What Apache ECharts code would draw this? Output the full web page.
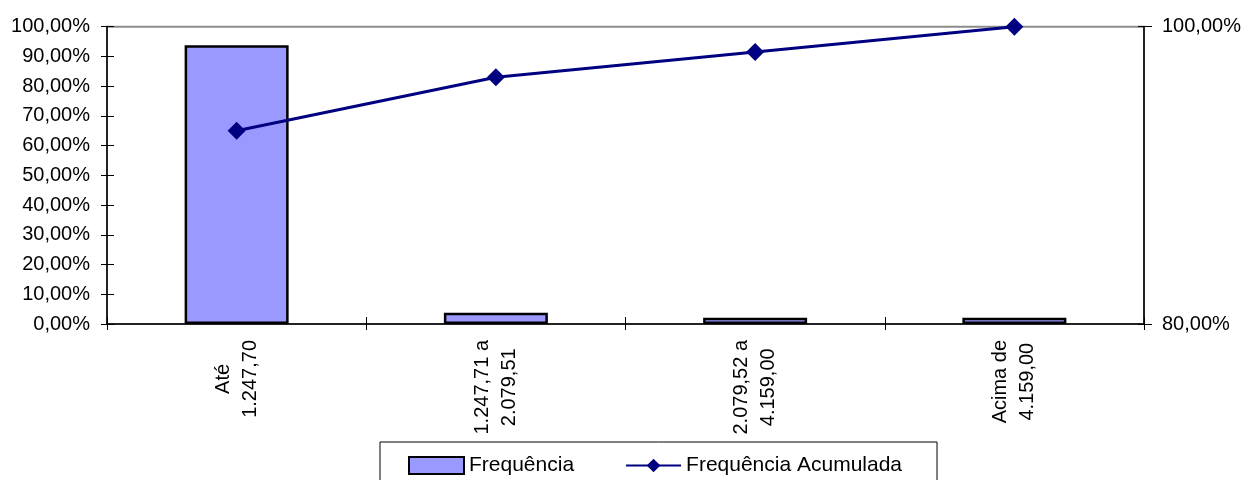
<!DOCTYPE html>
<html>
<head>
<meta charset="utf-8">
<script src="https://cdn.jsdelivr.net/npm/echarts@6/dist/echarts.min.js"></script>
<style>
html,body{margin:0;padding:0;background:#fff;}
#chart{width:1248px;height:480px;}
</style>
</head>
<body>
<div id="chart"></div>
<script>
var categories = ['Até\n1.247,70', '1.247,71 a\n2.079,51', '2.079,52 a\n4.159,00', 'Acima de\n4.159,00'];
var frequencia = [93.8, 3.8, 2.1, 2.1];
var acumulada = [93.0, 96.6, 98.3, 100.0];
var seriesNames = ['Frequência', 'Frequência Acumulada'];

var FONT = '"Liberation Sans", Arial, sans-serif';
function pct(v) { return v.toFixed(2).replace('.', ',') + '%'; }

var chart = echarts.init(document.getElementById('chart'), null, {renderer: 'canvas'});
chart.setOption({
  animation: false,
  backgroundColor: '#ffffff',
  textStyle: {fontFamily: FONT, color: '#000'},
  grid: {left: 107, right: 104, top: 26.7, bottom: 156, show: true, borderColor: '#8c8c8c', borderWidth: 2, containLabel: false},
  legend: {
    data: [{name: seriesNames[0], icon: 'rect'}, {name: seriesNames[1]}],
    left: 380, top: 442,
    orient: 'horizontal',
    padding: [13, 35, 13, 28],
    itemGap: 51, itemWidth: 55, itemHeight: 17,
    borderColor: '#000', borderWidth: 1,
    textStyle: {fontFamily: FONT, fontSize: 21, color: '#000'}
  },
  xAxis: [{
    type: 'category', data: categories, position: 'bottom', boundaryGap: true,
    axisLine: {show: true, lineStyle: {color: '#000', width: 1.5}},
    axisTick: {show: true, length: 6, lineStyle: {color: '#000', width: 1}},
    axisLabel: {
      rotate: 90, margin: 16, interval: 0, color: '#000', fontFamily: FONT, fontSize: 20, lineHeight: 27,
      formatter: function (v) { return v.split('\n').map(function (s) { return '{c|' + s + '}'; }).join('\n'); },
      rich: {c: {align: 'center', fontFamily: FONT, fontSize: 20, lineHeight: 27, color: '#000'}}
    }
  }, {
    type: 'category', data: categories, position: 'bottom', boundaryGap: true,
    axisLine: {show: false}, axisLabel: {show: false},
    axisTick: {show: true, inside: true, length: 7, lineStyle: {color: '#000', width: 1}}
  }],
  yAxis: [{
    type: 'value', position: 'left', min: 0, max: 100, interval: 10,
    splitLine: {show: false},
    axisLine: {show: true, lineStyle: {color: '#000', width: 1.5}},
    axisTick: {show: true, length: 6, lineStyle: {color: '#000'}},
    axisLabel: {margin: 17, color: '#000', fontFamily: FONT, fontSize: 20, formatter: pct}
  }, {
    type: 'value', position: 'right', min: 80, max: 100, interval: 20,
    splitLine: {show: false},
    axisLine: {show: true, lineStyle: {color: '#000', width: 1.5}},
    axisTick: {show: true, length: 8, lineStyle: {color: '#000'}},
    axisLabel: {margin: 18, color: '#000', fontFamily: FONT, fontSize: 20, formatter: pct}
  }, {
    type: 'value', position: 'left', min: 0, max: 100, interval: 10,
    splitLine: {show: false}, axisLine: {show: false}, axisLabel: {show: false},
    axisTick: {show: true, inside: true, length: 7, lineStyle: {color: '#000'}}
  }, {
    type: 'value', position: 'right', min: 80, max: 100, interval: 20,
    splitLine: {show: false}, axisLine: {show: false}, axisLabel: {show: false},
    axisTick: {show: true, inside: true, length: 6, lineStyle: {color: '#000'}}
  }],
  series: [{
    name: seriesNames[0], type: 'bar', xAxisIndex: 0, yAxisIndex: 0,
    data: frequencia, barWidth: 104,
    itemStyle: {color: '#9999ff', borderColor: '#000', borderWidth: 2.5}
  }, {
    name: seriesNames[1], type: 'line', xAxisIndex: 0, yAxisIndex: 1,
    data: acumulada, symbol: 'diamond', symbolSize: 18,
    lineStyle: {color: '#000080', width: 3},
    itemStyle: {color: '#000080'}
  }]
});
</script>
</body>
</html>
